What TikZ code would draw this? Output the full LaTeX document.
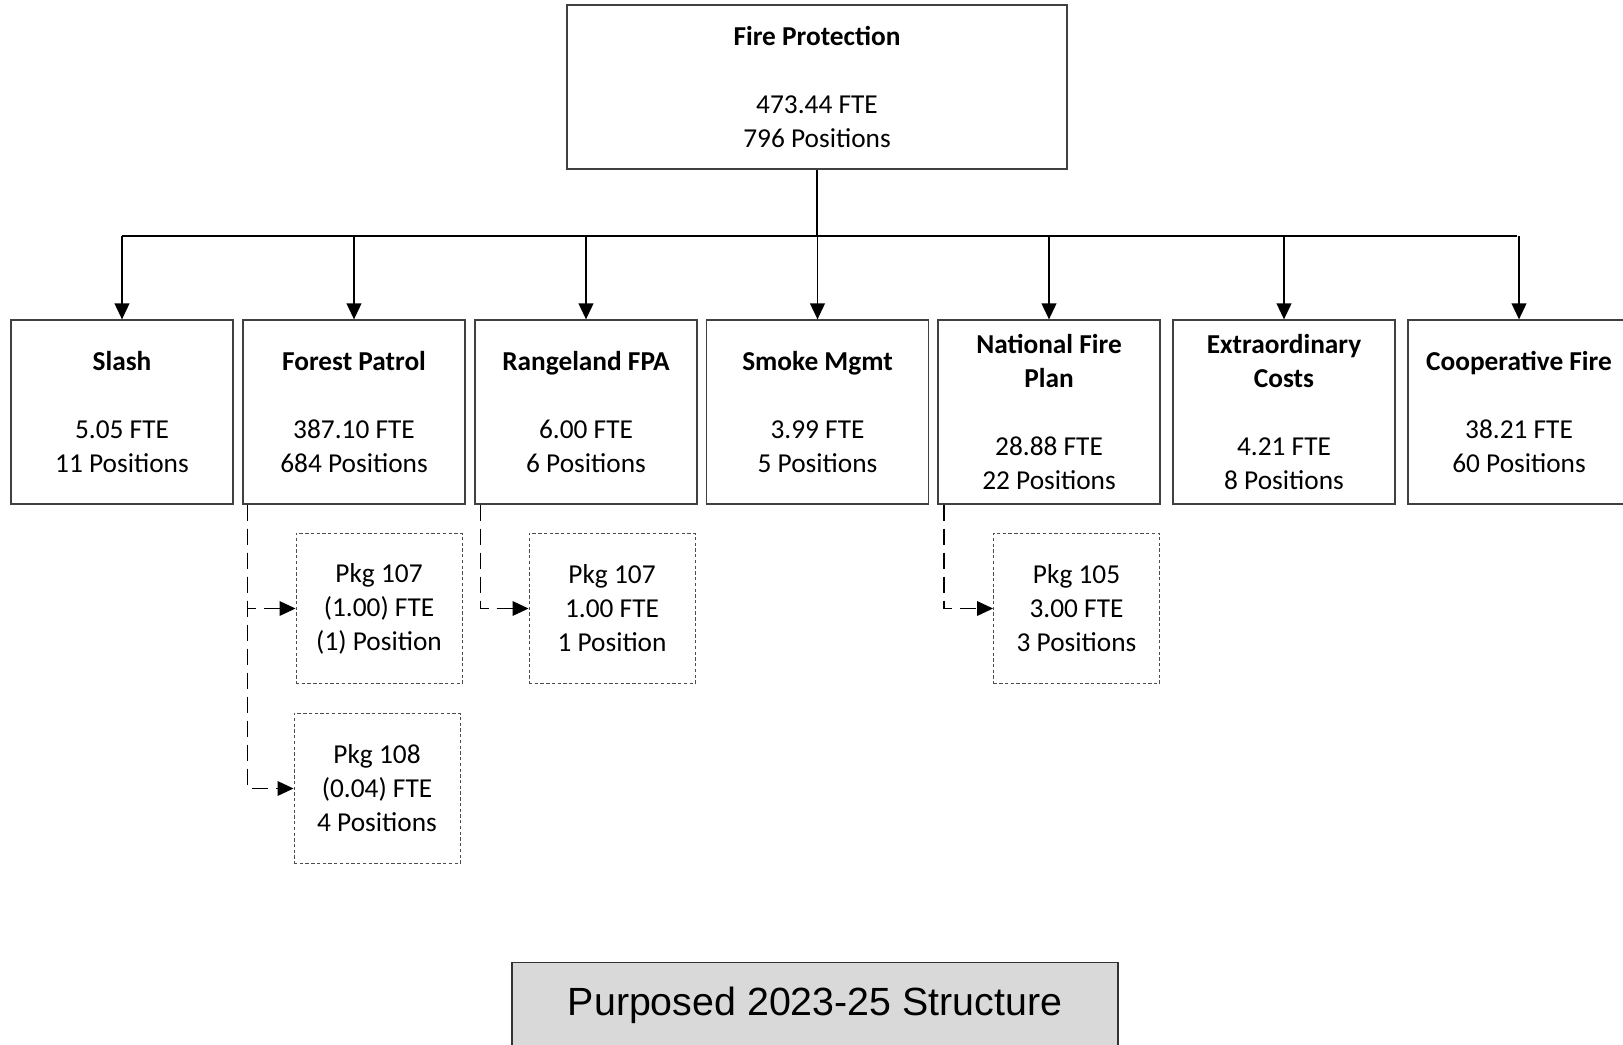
\documentclass[tikz,border=0pt]{standalone}
\usepackage{fontspec}
\setmainfont{Carlito}
\newfontfamily\arialf{Liberation Sans}
\usetikzlibrary{arrows.meta}
\begin{document}
\begin{tikzpicture}[x=0.75pt,y=-0.75pt,
  txt/.style={font=\fontsize{20.5}{25.5}\selectfont, align=center, inner sep=0pt},
  mainbox/.style={txt, draw=black!75, line width=0.9pt, minimum width=166.5pt, minimum height=138pt},
  topbox/.style={txt, draw=black!75, line width=0.9pt, minimum width=375pt, minimum height=123pt},
  subbox/.style={txt, draw=black!70, line width=0.7pt, dash pattern=on 2.5pt off 1.8pt, minimum width=124.5pt, minimum height=113pt},
  conn/.style={line width=1.4pt, -{Triangle[length=12pt,width=11pt]}},
  dconn/.style={line width=1pt, dash pattern=on 12pt off 6pt, -{Triangle[length=12pt,width=11pt]}},
  labelbox/.style={draw=black!80, line width=0.9pt, fill=black!15, minimum width=454.5pt, minimum height=64pt, inner sep=0pt, font=\arialf\fontsize{29.5}{34}\selectfont}
]
\useasboundingbox (0,0) rectangle (1623,1045);

\node[topbox] (top) at (817,87) {\textbf{Fire Protection}\\[25.5pt]473.44 FTE\\796 Positions};

\node[mainbox] (slash) at (122,412) {\textbf{Slash}\\[25.5pt]5.05 FTE\\11 Positions};
\node[mainbox] (fp) at (354,412) {\textbf{Forest Patrol}\\[25.5pt]387.10 FTE\\684 Positions};
\node[mainbox] (rfpa) at (586,412) {\textbf{Rangeland FPA}\\[25.5pt]6.00 FTE\\6 Positions};
\node[mainbox] (smoke) at (817.5,412) {\textbf{Smoke Mgmt}\\[25.5pt]3.99 FTE\\5 Positions};
\node[mainbox] (nfp) at (1049,412) {\textbf{National Fire}\\\textbf{Plan}\\[25.5pt]28.88 FTE\\22 Positions};
\node[mainbox] (extra) at (1284,412) {\textbf{Extraordinary}\\\textbf{Costs}\\[25.5pt]4.21 FTE\\8 Positions};
\node[mainbox] (coop) at (1519,412) {\textbf{Cooperative Fire}\\[25.5pt]38.21 FTE\\60 Positions};

\node[subbox] (p107a) at (379,608.5) {Pkg 107\\(1.00) FTE\\(1) Position};
\node[subbox] (p108) at (377,788.5) {Pkg 108\\(0.04) FTE\\4 Positions};
\node[subbox] (p107b) at (612,608.5) {Pkg 107\\1.00 FTE\\1 Position};
\node[subbox] (p105) at (1076.5,608.5) {Pkg 105\\3.00 FTE\\3 Positions};

\node[labelbox] (label) at (815,1005) {Purposed 2023-25 Structure};

% bus
\coordinate (bus) at (817,236);
\coordinate (busL) at (122,236);
\coordinate (busR) at (1517,236);
\draw[line width=1.4pt] (top.south) -- (bus);
\draw[line width=1.4pt] (busL) -- (busR);
\foreach \n in {slash,fp,rfpa,smoke,nfp,extra,coop}{
  \draw[conn] (\n.north |- bus) -- (\n.north);
}

% dashed connectors
\draw[dconn] ([xshift=3.75pt]fp.south west) |- (p107a.west);
\draw[dconn] ([xshift=3.75pt]fp.south west) |- (p108.west);
\draw[dconn] ([xshift=4.5pt]rfpa.south west) |- (p107b.west);
\draw[dconn] ([xshift=5pt]nfp.south west) |- (p105.west);
\end{tikzpicture}
\end{document}
